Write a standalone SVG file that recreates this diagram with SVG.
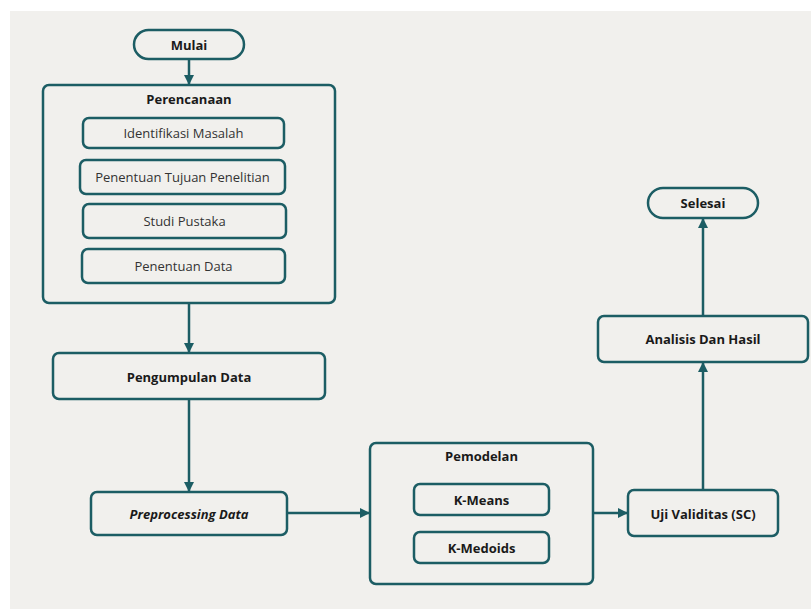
<svg xmlns="http://www.w3.org/2000/svg" width="811" height="609" viewBox="0 0 811 609">
<defs>
<marker id="ah" viewBox="0 0 10 10" refX="9" refY="5" markerWidth="4" markerHeight="4" orient="auto" markerUnits="strokeWidth">
<path d="M0,0 L10,5 L0,10 z" fill="#1c5d64"/>
</marker>
</defs>
<style>
.b{fill:none;stroke:#1c5d64;stroke-width:2.5}
.c{fill:none;stroke:#1c5d64;stroke-width:2.5;marker-end:url(#ah)}
text{font-family:"Open Sans","Noto Sans",sans-serif;font-size:13px;fill:#1a1a1a;text-anchor:middle;dominant-baseline:central}
.t{font-weight:bold}
.i{font-weight:bold;font-style:italic}
.r{fill:#333}
</style>
<rect x="0" y="0" width="811" height="609" fill="#ffffff"/>
<rect x="10" y="11" width="801" height="598" fill="#f1f0ed"/>
<g id="connectors">
<line class="c" x1="189" y1="59" x2="189" y2="84"/>
<line class="c" x1="189" y1="304" x2="189" y2="352"/>
<line class="c" x1="189" y1="399" x2="189" y2="491"/>
<line class="c" x1="287" y1="513" x2="369" y2="513"/>
<line class="c" x1="593" y1="513" x2="627" y2="513"/>
<line class="c" x1="703" y1="490" x2="703" y2="363"/>
<line class="c" x1="703" y1="316" x2="703" y2="219"/>
</g>
<g id="mulai"><rect class="b" x="134" y="30" width="110" height="29" rx="14.5"/><text class="t" x="189" y="44.5">Mulai</text></g>
<g id="perencanaan"><rect class="b" x="43" y="85" width="292" height="218" rx="6"/><text class="t" x="189" y="99">Perencanaan</text></g>
<g id="identifikasi"><rect class="b" x="83" y="118" width="201" height="30" rx="6"/><text class="r" x="183.5" y="133">Identifikasi Masalah</text></g>
<g id="tujuan"><rect class="b" x="80" y="160" width="205" height="34" rx="6"/><text class="r" x="182.5" y="177">Penentuan Tujuan Penelitian</text></g>
<g id="studi"><rect class="b" x="83" y="204" width="203" height="34" rx="6"/><text class="r" x="184.5" y="221">Studi Pustaka</text></g>
<g id="penentuan-data"><rect class="b" x="82" y="249" width="203" height="34" rx="6"/><text class="r" x="183.5" y="266">Penentuan Data</text></g>
<g id="pengumpulan"><rect class="b" x="53" y="353" width="272" height="46" rx="6"/><text class="t" x="189" y="377">Pengumpulan Data</text></g>
<g id="preprocessing"><rect class="b" x="91" y="492" width="196" height="43" rx="6"/><text class="i" x="189" y="514">Preprocessing Data</text></g>
<g id="pemodelan"><rect class="b" x="370" y="443" width="223" height="141" rx="6"/><text class="t" x="481.5" y="456">Pemodelan</text></g>
<g id="kmeans"><rect class="b" x="414" y="484" width="135" height="31" rx="6"/><text class="t" x="481.5" y="500">K-Means</text></g>
<g id="kmedoids"><rect class="b" x="414" y="532" width="135" height="31" rx="6"/><text class="t" x="481.5" y="548">K-Medoids</text></g>
<g id="uji"><rect class="b" x="628" y="490" width="150" height="46" rx="6"/><text class="t" x="703" y="514">Uji Validitas (SC)</text></g>
<g id="analisis"><rect class="b" x="598" y="316" width="210" height="46" rx="6"/><text class="t" x="703" y="339">Analisis Dan Hasil</text></g>
<g id="selesai"><rect class="b" x="648" y="188" width="110" height="30" rx="15"/><text class="t" x="703" y="203">Selesai</text></g>
</svg>
